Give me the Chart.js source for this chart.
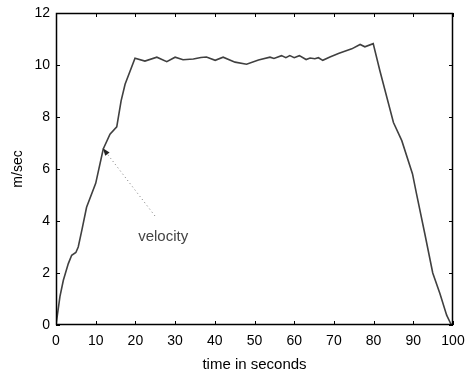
<!DOCTYPE html>
<html>
<head>
<meta charset="utf-8">
<script src="https://cdn.jsdelivr.net/npm/chart.js@4/dist/chart.umd.min.js"></script>
<style>
  body { margin: 0; background: #fff; }
  canvas { display: block; }
</style>
</head>
<body>
<canvas id="myChart" width="465" height="379"></canvas>
<script>
const ctx = document.getElementById('myChart');

// time (s) and velocity (m/sec)
const timeSec = [0, 1.0, 1.85, 3.1, 3.95, 5.0, 5.6, 6.5, 7.7, 10.0, 11.9, 13.6, 15.3, 16.4, 17.4, 19.9,
  22.4, 25.4, 27.9, 30.0, 32.0, 34.6, 36.5, 37.9, 40.1, 42.1, 45.1, 48.0, 51.0,
  53.9, 54.9, 56.8, 57.9, 58.9, 60.0, 61.3, 63.0, 64.0, 65.2, 66.1, 67.2, 69.0,
  71.3, 74.5, 76.6, 77.8, 79.9, 81.6, 85.0, 87.1, 89.8, 90.8, 92.9, 94.9, 96.7,
  98.4, 99.6];
const velocity = [0, 1.1, 1.72, 2.36, 2.68, 2.79, 3.0, 3.64, 4.53, 5.45, 6.77, 7.34, 7.62, 8.62, 9.26, 10.26,
  10.15, 10.3, 10.13, 10.3, 10.2, 10.23, 10.29, 10.31, 10.18, 10.3, 10.11, 10.03, 10.19,
  10.3, 10.25, 10.36, 10.28, 10.36, 10.28, 10.36, 10.21, 10.27, 10.24, 10.28, 10.18, 10.31,
  10.45, 10.62, 10.79, 10.7, 10.82, 9.77, 7.79, 7.09, 5.81, 5.05, 3.51, 2.0, 1.21,
  0.38, 0];

const xTicks = [0, 10, 20, 30, 40, 50, 60, 70, 80, 90, 100];
const yTicks = [0, 2, 4, 6, 8, 10, 12];

// annotation: arrow tail / head and text position (data units)
const arrowFrom = [24.9, 4.2];
const arrowTo = [11.8, 6.8];
const labelAt = [27, 3.4];
const labelText = 'velocity';

const points = timeSec.map((t, i) => ({ x: t, y: velocity[i] }));

const FONT = '"Liberation Sans", Arial, sans-serif';

const framePlugin = {
  id: 'frame',
  afterDraw(chart) {
    const c = chart.ctx;
    const a = chart.chartArea;
    const xs = chart.scales.x;
    const ys = chart.scales.y;
    c.save();
    c.strokeStyle = '#000';
    c.lineWidth = 1.5;
    c.strokeRect(a.left + 0.5, a.top + 0.5, a.right - a.left - 1, a.bottom - a.top - 1);
    c.lineWidth = 1;
    const len = 4;
    c.beginPath();
    xTicks.forEach(v => {
      const px = Math.round(xs.getPixelForValue(v)) + 0.5;
      c.moveTo(px, a.bottom); c.lineTo(px, a.bottom - len);
      c.moveTo(px, a.top); c.lineTo(px, a.top + len);
    });
    yTicks.forEach(v => {
      const py = Math.round(ys.getPixelForValue(v)) + 0.5;
      c.moveTo(a.left, py); c.lineTo(a.left + len, py);
      c.moveTo(a.right, py); c.lineTo(a.right - len, py);
    });
    c.stroke();

    // dotted arrow with text
    const x1 = xs.getPixelForValue(arrowFrom[0]), y1 = ys.getPixelForValue(arrowFrom[1]);
    const x2 = xs.getPixelForValue(arrowTo[0]), y2 = ys.getPixelForValue(arrowTo[1]);
    c.strokeStyle = '#777';
    c.setLineDash([1, 3]);
    c.beginPath();
    c.moveTo(x1, y1); c.lineTo(x2, y2);
    c.stroke();
    c.setLineDash([]);
    const ang = Math.atan2(y2 - y1, x2 - x1);
    c.fillStyle = '#222';
    c.beginPath();
    c.moveTo(x2, y2);
    c.lineTo(x2 - 8 * Math.cos(ang - 0.35), y2 - 8 * Math.sin(ang - 0.35));
    c.lineTo(x2 - 8 * Math.cos(ang + 0.35), y2 - 8 * Math.sin(ang + 0.35));
    c.closePath();
    c.fill();

    c.fillStyle = '#444';
    c.font = '15px ' + FONT;
    c.textAlign = 'center';
    c.textBaseline = 'middle';
    c.fillText(labelText, xs.getPixelForValue(labelAt[0]), ys.getPixelForValue(labelAt[1]));
    c.restore();
  }
};

new Chart(ctx, {
  type: 'line',
  data: {
    datasets: [
      {
        label: 'velocity',
        data: points,
        borderColor: '#404040',
        borderWidth: 1.6,
        pointRadius: 0,
        fill: false,
        tension: 0
      }
    ]
  },
  options: {
    responsive: false,
    animation: false,
    layout: { padding: { left: 0, right: 12, top: 13, bottom: 0 } },
    plugins: {
      legend: { display: false },
      tooltip: { enabled: false }
    },
    scales: {
      x: {
        type: 'linear',
        min: 0,
        max: 100,
        afterFit(scale) {
          scale.height = 54;
          scale.paddingLeft = 0;
          scale.paddingRight = 0;
        },
        afterBuildTicks(scale) { scale.ticks = xTicks.map(v => ({ value: v })); },
        grid: { display: false, drawTicks: false },
        border: { display: false },
        ticks: {
          color: '#000',
          padding: 8,
          maxRotation: 0,
          font: { family: FONT, size: 14 }
        },
        title: {
          display: true,
          text: 'time in seconds',
          color: '#000',
          padding: { top: 2, bottom: 5 },
          font: { family: FONT, size: 15 }
        }
      },
      y: {
        min: 0,
        max: 12,
        afterFit(scale) {
          scale.width = 56;
          scale.paddingTop = 0;
          scale.paddingBottom = 0;
        },
        afterBuildTicks(scale) { scale.ticks = yTicks.map(v => ({ value: v })); },
        grid: { display: false, drawTicks: false },
        border: { display: false },
        ticks: {
          color: '#000',
          padding: 6,
          font: { family: FONT, size: 14 }
        },
        title: {
          display: true,
          text: 'm/sec',
          color: '#000',
          padding: { top: 10, bottom: 0 },
          font: { family: FONT, size: 14 }
        }
      }
    }
  },
  plugins: [framePlugin]
});
</script>
</body>
</html>
